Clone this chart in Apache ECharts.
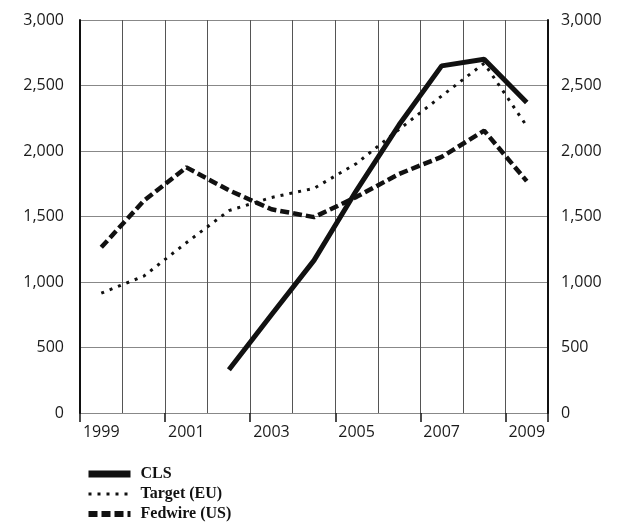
<!DOCTYPE html>
<html>
<head>
<meta charset="utf-8">
<script src="https://cdn.jsdelivr.net/npm/echarts@6/dist/echarts.min.js"></script>
<style>
  html, body { margin: 0; padding: 0; background: #fff; }
  #chart { width: 628px; height: 529px; }
</style>
</head>
<body>
<div id="chart"></div>
<script>
// years on the x axis
var years = ['1999', '2000', '2001', '2002', '2003', '2004', '2005', '2006', '2007', '2008', '2009'];
// values
var cls = [null, null, null, 330, 750, 1165, 1700, 2200, 2650, 2700, 2370];
var target = [915, 1045, 1300, 1545, 1645, 1715, 1905, 2165, 2420, 2670, 2190];
var fedwire = [1265, 1620, 1875, 1700, 1555, 1495, 1650, 1825, 1955, 2155, 1770];
var yTicks = [0, 500, 1000, 1500, 2000, 2500, 3000];

var ink = '#111';

function fmt(v) {
    return v.toLocaleString('en-US');
}

function yAxis(pos, grid) {
    return {
        type: 'value',
        position: pos,
        min: yTicks[0],
        max: yTicks[yTicks.length - 1],
        interval: 500,
        axisLine: { show: true, lineStyle: { color: ink, width: 2 } },
        axisTick: { show: false },
        axisLabel: {
            color: '#1a1a1a',
            fontFamily: 'Open Sans',
            fontSize: 16,
            margin: pos === 'left' ? 16 : 13,
            formatter: fmt
        },
        splitLine: { show: grid, lineStyle: { color: '#888', width: 1 } }
    };
}

var chart = echarts.init(document.getElementById('chart'));
chart.setOption({
    animation: false,
    grid: { left: 80, right: 80, top: 20, bottom: 116 },
    legend: {
        orient: 'vertical',
        left: 80,
        top: 461,
        height: 100,
        itemWidth: 42,
        itemHeight: 8,
        itemGap: 4,
        itemStyle: { color: 'rgba(0,0,0,0)', borderWidth: 0 },
        textStyle: { fontFamily: 'Liberation Serif', fontSize: 16, color: ink, fontWeight: 'bold', padding: [0, 0, 0, 5] },
        data: [
            { name: 'CLS', lineStyle: { width: 7 } },
            { name: 'Target (EU)', lineStyle: { width: 3 } },
            { name: 'Fedwire (US)', lineStyle: { width: 6 } }
        ]
    },
    xAxis: {
        type: 'category',
        data: years,
        boundaryGap: true,
        axisLine: { show: false },
        axisTick: { show: true, length: 9, lineStyle: { color: ink, width: 1.5 } },
        axisLabel: { interval: 1, color: '#1a1a1a', fontFamily: 'Open Sans', fontSize: 16, margin: 11 },
        splitLine: { show: true, interval: 0, lineStyle: { color: '#555', width: 1 } }
    },
    yAxis: [yAxis('left', true), yAxis('right', false)],
    series: [
        {
            name: 'CLS', type: 'line', data: cls, symbol: 'none',
            lineStyle: { color: ink, width: 5 }, itemStyle: { color: ink }
        },
        {
            name: 'Target (EU)', type: 'line', data: target, symbol: 'none',
            lineStyle: { color: ink, width: 3, type: [3, 6] }, itemStyle: { color: ink }
        },
        {
            name: 'Fedwire (US)', type: 'line', data: fedwire, symbol: 'none',
            lineStyle: { color: ink, width: 4.5, type: [9, 4] }, itemStyle: { color: ink }
        }
    ]
});
</script>
</body>
</html>
